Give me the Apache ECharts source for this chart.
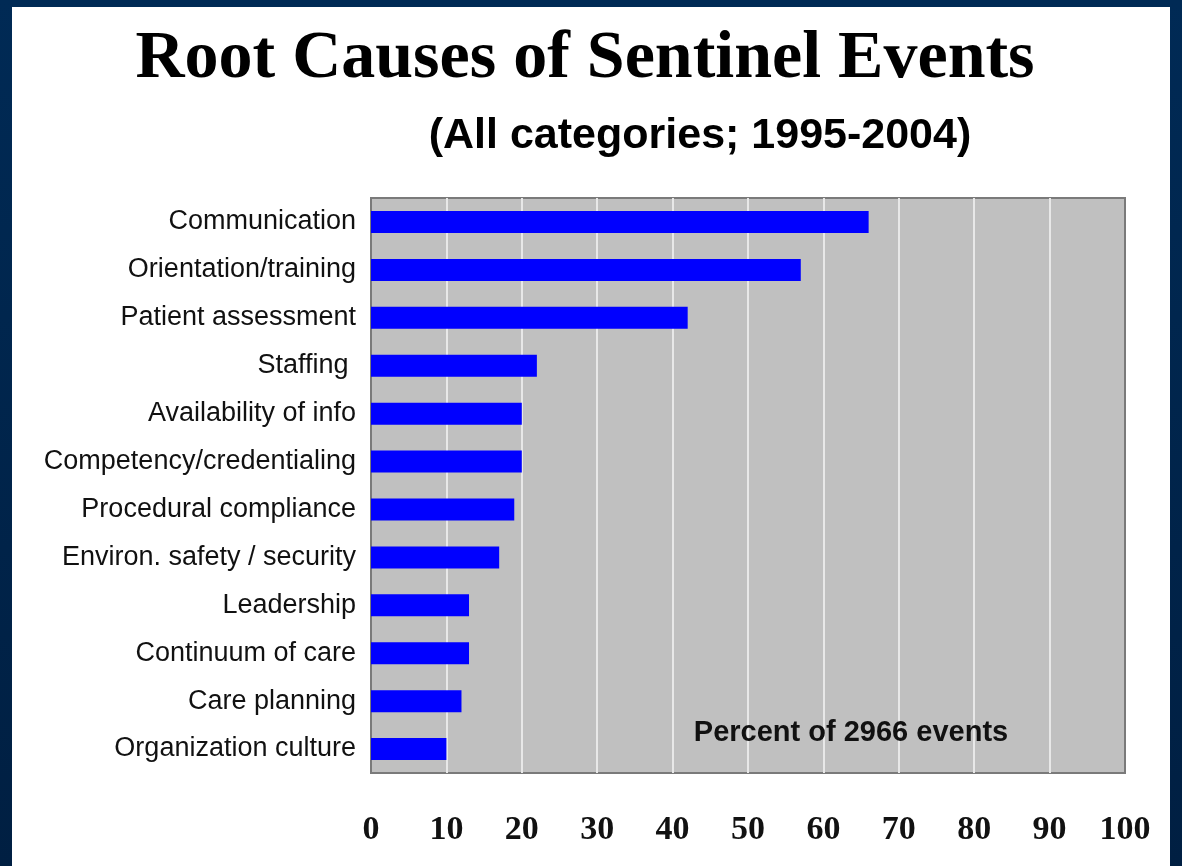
<!DOCTYPE html>
<html>
<head>
<meta charset="utf-8">
<script src="https://cdn.jsdelivr.net/npm/echarts@6/dist/echarts.min.js"></script>
<style>
  html, body { margin: 0; padding: 0; }
  body { width: 1182px; height: 866px; background: linear-gradient(#002a55, #001f42); overflow: hidden; }
  #panel { position: absolute; left: 12px; top: 7px; width: 1158px; height: 859px; background: #ffffff; }
  #chart { position: absolute; left: 0; top: 0; width: 1182px; height: 866px; }
</style>
</head>
<body>
<div id="panel"></div>
<div id="chart"></div>
<script>
let causes = [
  'Communication',
  'Orientation/training',
  'Patient assessment',
  'Staffing ',
  'Availability of info',
  'Competency/credentialing',
  'Procedural compliance',
  'Environ. safety / security',
  'Leadership',
  'Continuum of care',
  'Care planning',
  'Organization culture'
];
let percents = [66, 57, 42, 22, 20, 20, 19, 17, 13, 13, 12, 10];
let percentTicks = [0, 100, 10];

let chartDom = document.getElementById('chart');
let myChart = echarts.init(chartDom);

let options = {
  backgroundColor: 'transparent',
  animation: false,
  grid: {
    left: 371,
    top: 198,
    width: 754,
    height: 575,
    show: true,
    backgroundColor: '#c0c0c0',
    borderColor: '#7a7a7a',
    borderWidth: 2
  },
  xAxis: {
    type: 'value',
    min: percentTicks[0],
    max: percentTicks[1],
    interval: percentTicks[2],
    axisLine: { show: false },
    axisTick: { show: false },
    splitLine: {
      show: true,
      showMinLine: false,
      showMaxLine: false,
      lineStyle: { color: '#e8e8e8', width: 2 }
    },
    axisLabel: {
      margin: 40,
      color: '#111111',
      fontFamily: '"Liberation Serif", "Times New Roman", serif',
      fontWeight: 'bold',
      fontSize: 34
    }
  },
  yAxis: {
    type: 'category',
    inverse: true,
    data: causes,
    axisLine: { show: false },
    axisTick: { show: false },
    splitLine: { show: false },
    axisLabel: {
      margin: 15,
      color: '#111111',
      fontFamily: '"Liberation Sans", Arial, sans-serif',
      fontSize: 27
    }
  },
  series: [{
    type: 'bar',
    data: percents,
    barWidth: 22,
    itemStyle: { color: '#0000ff' }
  }],
  graphic: [
    {
      type: 'text',
      x: 585,
      y: 59,
      style: {
        text: 'Root Causes of Sentinel Events',
        fill: '#000000',
        font: 'bold 68px "Liberation Serif", "Times New Roman", serif',
        textAlign: 'center',
        textVerticalAlign: 'middle'
      }
    },
    {
      type: 'text',
      x: 700,
      y: 136,
      style: {
        text: '(All categories; 1995-2004)',
        fill: '#000000',
        font: 'bold 43px "Liberation Sans", Arial, sans-serif',
        textAlign: 'center',
        textVerticalAlign: 'middle'
      }
    },
    {
      type: 'text',
      x: 851,
      y: 733,
      z: 10,
      style: {
        text: 'Percent of 2966 events',
        fill: '#111111',
        font: 'bold 29px "Liberation Sans", Arial, sans-serif',
        textAlign: 'center',
        textVerticalAlign: 'middle'
      }
    }
  ]
};

myChart.setOption(options);
</script>
</body>
</html>
